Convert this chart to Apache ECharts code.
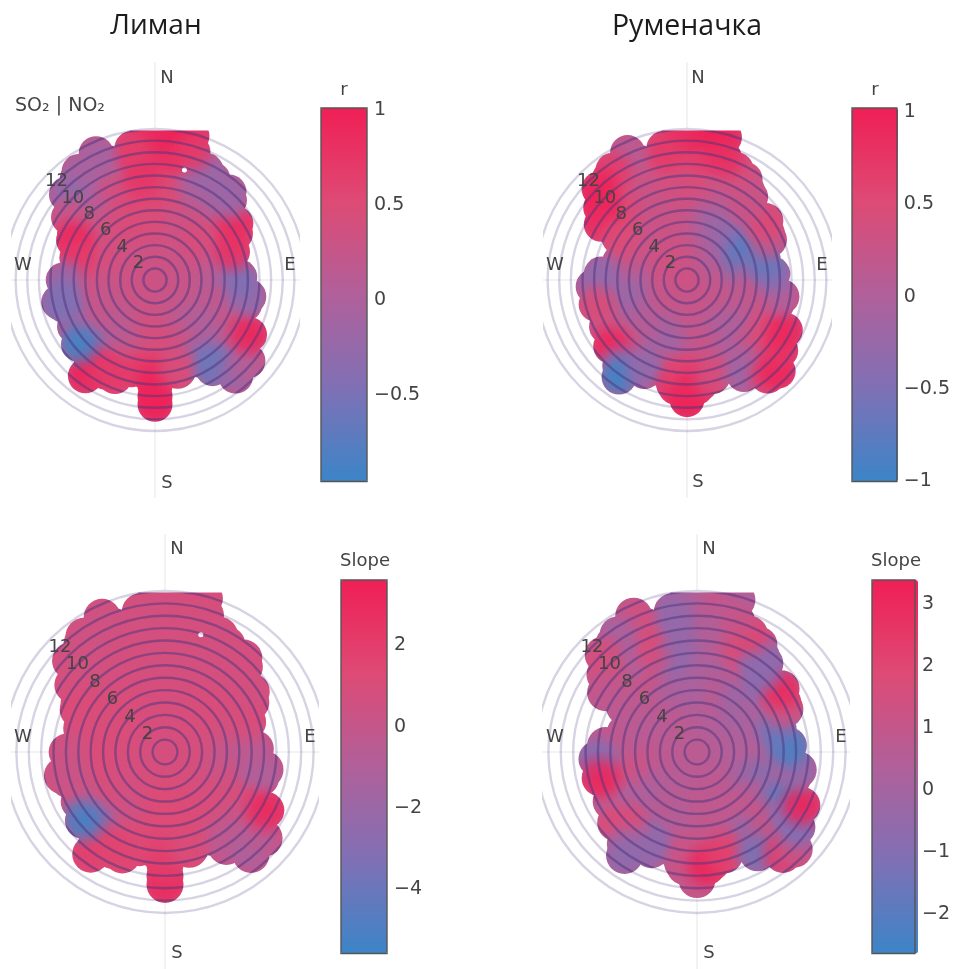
<!DOCTYPE html>
<html><head><meta charset="utf-8">
<style>html,body{margin:0;padding:0;background:#fff}#c{width:953px;height:969px}</style>
<script src="https://cdn.jsdelivr.net/npm/echarts@6/dist/echarts.min.js"></script>
</head><body><div id="c"></div>
<script>
// ---------- wind coordinates of the free-standing points [direction deg, speed m/s]; the first ones fill the interior, the rest trace the edge ----------
const limanOuterDir   = [7.5,22.5,37.5,127.5,142.5,202.5,217.5,307.5,322.5,337.5,352.5, 7.5,322.5,337.5,352.5, 14.4,8,0,357,350,335,325,314,306,296,286,270,257,254,216,208,185,180,180,166,147,140,131,120,100,88,70,55,43,40,25,16.5,230];
const limanOuterSpeed = [9,9,9,9,9,9,9,9,9,9,9, 11,11,11,11, 12.8,12.9,12.9,12.9,11.5,12.0,11.4,10.6,9.2,7.8,7.0,7.9,8.5,8.1,10.2,9.0,8.0,10.7,9.1,8.1,9.1,10.8,10.6,9.4,8.2,7.3,7.1,8.5,9.4,9.9,10.4,11.5,8.6];
const rumenOuterDir   = [7.5,22.5,37.5,127.5,142.5,172.5,187.5,217.5,307.5,322.5,337.5,352.5, 7.5,322.5,337.5,352.5, 14.7,8,0,357,350,335,326,316,310,303,302,274,266,255,229,218,215,205,186,182,180,175,165,149,140,135,127,117,100,86,75,64,53,38,34,24,17];
const rumenOuterSpeed = [9,9,9,9,9,9,9,9,9,9,9,9, 11,11,11,11, 12.7,12.9,12.9,12.8,11.5,12.1,11.4,10.9,9.7,8.8,6.9,7.4,8.1,8.1,8.7,9.4,10.2,8.7,9.3,8.3,10.3,9.3,8.6,9.5,10.8,11.1,10.1,9.5,8.3,7.4,6.8,7.9,8.5,8.3,9.3,10.4,11];

// ---------- Лиман, r ----------
const limanRCentre = [0.33];
const limanRRow2 = [.32,.33,.3,.3,.33,.32,.3,.33];
const limanRRow4 = [.35,.35,.3,.25,.3,.2,.3,.35,.3,.3,.35,.35];
const limanRRow6 = [.45,.45,.3,.4,.5,.35,.1,.05,.25,.05,0,.3,.45,.45,.3,.05,.2,.25,.25,.35,.45,.4,.4,.5];
const limanRRow8 = [.6,.45,.2,.3,.6,null,null,-.1,.35,-.05,-.45,.4,.65,.6,.4,-.4,-.05,.1,null,null,.6,.3,.4,.6];
const limanRRow10 = [.8,.65,-.1,null,null,null,null,null,null,.2,null,null,1,null,null,null,null,null,null,null,null,-.2,.1,.7];
const limanROuter = [.55,-.05,-.1,.3,-.5,.7,.85,.4,.1,.4,.75, .85,-.1,.05,.8, .85,1,1,.9,.65,-.1,-.05,-.25,.3,.95,.7,-.3,-.5,-.45,.95,.7,.75,1,.95,.45,-.6,-.2,.1,.95,-.3,-.5,.8,.85,-.05,-.2,-.2,.7,-.95];

// ---------- Руменачка, r ----------
const rumenRCentre = [0.3];
const rumenRRow2 = [.3,.28,.28,.3,.3,.3,.32,.32];
const rumenRRow4 = [.3,.2,-.1,.15,.25,.2,.3,.15,.3,.2,.35,.35];
const rumenRRow6 = [.2,.05,-.2,-.2,-.5,-.95,-.1,.2,.2,.1,-.1,.1,.35,.1,-.3,.1,.1,-.1,-.3,0,.35,.3,.3,.3];
const rumenRRow8 = [.45,.25,.05,.15,.2,null,null,.3,.5,.35,0,.3,.6,.35,-.2,.45,.35,.25,null,null,null,.6,.3,.3];
const rumenRRow10 = [.7,.55,.35,null,null,null,null,null,null,.75,null,null,1,null,null,null,null,null,null,null,null,.85,.35,.5];
const rumenROuter = [.45,.25,.2,.55,.1,.65,.55,-.1,.8,.55,.3,.4, .7,.45,.3,.65, 1,1,1,.85,.7,.1,.7,1,1,.85,.5,-.3,-.3,.5,.95,-.3,-1,-.3,.8,.6,1,.9,.4,-.2,.7,.95,.8,.95,0,-.5,-.7,.3,.55,.3,.3,.45,.85];

// ---------- Лиман, Slope ----------
const limanSCentre = [0.8];
const limanSRow2 = [.8,.8,.8,.8,.8,.8,.8,.8];
const limanSRow4 = [.9,.9,1,.8,.8,.9,1.1,1.1,.9,.9,1,1];
const limanSRow6 = [.9,.9,.9,1,1,.8,.3,-.4,.6,.9,1,1.2,1.3,1.3,1.2,.2,.9,.9,1,1.1,1.1,1,1.1,.9];
const limanSRow8 = [.7,.7,.7,.8,1,null,null,-1.3,1.1,.2,.3,1.2,1.5,1.3,1.1,-3,-.6,.3,null,null,1.2,1,.8,.8];
const limanSRow10 = [.8,.8,.8,null,null,null,null,null,null,-.2,null,null,2.4,null,null,null,null,null,null,null,null,.7,.7,.8];
const limanSOuter = [.8,.7,.7,.3,-.6,1.5,1.7,.9,.7,.8,.8, .8,.6,.7,.8, 1,.9,.8,.8,.7,.5,.5,.6,.8,1.2,1,.3,.3,.3,1.9,1.6,1.5,3,2,1.1,-.3,-1.2,-.4,3.1,-.9,-.5,1,.7,.8,.8,.7,.8,-5.4];

// ---------- Руменачка, Slope ----------
const rumenSCentre = [0.7];
const rumenSRow2 = [.7,.7,.7,.7,.7,.7,.7,.7];
const rumenSRow4 = [.3,.5,.3,.5,.4,.9,.8,.7,.5,.9,.6,.8];
const rumenSRow6 = [.1,.7,.9,-.6,.3,.2,.4,.6,-1.4,.8,1,.8,.9,.9,.3,.9,.1,.6,1.7,.6,.7,.5,1.1,.1];
const rumenSRow8 = [.3,.1,1,-1,1.5,null,null,.8,-1.9,1.4,-.8,1.5,1.1,1,-.8,1.9,.4,1.6,null,null,null,1.2,1.4,-.7];
const rumenSRow10 = [1.9,-.3,1.7,null,null,null,null,null,null,-1.2,null,null,1.2,null,null,null,null,null,null,null,null,1.6,1.9,-.5];
const rumenSOuter = [.6,1.8,-.6,-1,1.6,2.2,1.1,.8,1.2,.4,1.6,-.5, .3,-.2,1.8,-.4, .3,.9,1.4,.3,-.5,1.4,.1,1.7,1.5,.9,.8,.9,-1.2,3.2,1.9,.6,-.8,-.6,1.2,1.3,1.1,3.3,2.2,-1.4,2.6,1.2,-1.2,3.3,-.7,-2.6,-1.6,1.5,3,-.8,-.6,2.1,1.2];

// ---------- colour bars ----------
const rRangeLiman = [-0.955, 1.01];
const rRangeRumen = [-1.0, 1.02];
const sRangeLiman = [-5.57, 3.6];
const sRangeRumen = [-2.63, 3.39];
const rTicksLiman = [-0.5, 0, 0.5, 1];
const rTicksRumen = [-1, -0.5, 0, 0.5, 1];
const sTicksLiman = [-4, -2, 0, 2];
const sTicksRumen = [-2, -1, 0, 1, 2, 3];
const colourStops = ['#3b85c8','#8070b5','#b0609a','#de4a75','#f01f55'];
const speedTicks = [2, 4, 6, 8, 10, 12];
const titles = ['Лиман', 'Руменачка'];
const compass = ['N', 'E', 'S', 'W'];

// ---------- layout ----------
const panels = [
 {cx:155, cy:280, R:151, clipL:11,  clipR:300, bar:[321,108], size:35, title:'r',
  barT:344, titleY:90, range:rRangeLiman, ticks:rTicksLiman, od:limanOuterDir, os:limanOuterSpeed,
  rows:[limanRCentre,limanRRow2,limanRRow4,limanRRow6,limanRRow8,limanRRow10], outer:limanROuter,
  hole:[15,9.8], N:[167,78], S:[167,483], W:[23,265], E:[290,265]},
 {cx:687, cy:280, R:151, clipL:543, clipR:832, bar:[852,108], size:35, title:'r',
  barT:875, titleY:90, range:rRangeRumen, ticks:rTicksRumen, od:rumenOuterDir, os:rumenOuterSpeed,
  rows:[rumenRCentre,rumenRRow2,rumenRRow4,rumenRRow6,rumenRRow8,rumenRRow10], outer:rumenROuter,
  N:[698,78], S:[698,482], W:[555,265], E:[822,265]},
 {cx:165, cy:752, R:161, clipL:11,  clipR:319, bar:[341,580], size:37, title:'Slope',
  barT:365, titleY:561, range:sRangeLiman, ticks:sTicksLiman, od:limanOuterDir, os:limanOuterSpeed,
  rows:[limanSCentre,limanSRow2,limanSRow4,limanSRow6,limanSRow8,limanSRow10], outer:limanSOuter,
  hole:[17,9.9], N:[177,549], S:[177,953], W:[23,737], E:[310,737]},
 {cx:697, cy:752, R:161, clipL:542, clipR:850, bar:[872,580], size:37, title:'Slope',
  barT:896, titleY:561, range:sRangeRumen, ticks:sTicksRumen, od:rumenOuterDir, os:rumenOuterSpeed,
  rows:[rumenSCentre,rumenSRow2,rumenSRow4,rumenSRow6,rumenSRow8,rumenSRow10], outer:rumenSOuter,
  N:[709,549], S:[709,953], W:[555,737], E:[841,737]}
];
const rowSpeeds = [0,2,4,6,8,10];
const maxSpeed = 13, BAR_W = 46, BAR_H = 373.5;
const FONT = '"DejaVu Sans", Verdana, sans-serif';
const toAngle = d => (d + 45) % 360;           // radius axis runs along NW

function colourOf(v, range){
  const t = Math.min(1, Math.max(0, (v - range[0]) / (range[1] - range[0])));
  return echarts.color.lerp(t, colourStops);
}

const option = {animation:false,
  polar:[], angleAxis:[], radiusAxis:[], grid:[], xAxis:[], yAxis:[], visualMap:[], series:[], graphic:[]};
const gfx = [];
const txt = (x,y,t,size,family,color) => gfx.push({type:'text', x, y, zlevel:4, z:9, silent:true,
  style:{text:t, fontSize:size, fontFamily:family||FONT, fill:color||'#444', align:'center', verticalAlign:'middle'}});
const rect = (x,y,w,h,zl) => gfx.push({type:'rect', zlevel:zl, z:1, silent:true, shape:{x,y,width:w,height:h}, style:{fill:'#fff'}});
const line = (x1,y1,x2,y2,zl) => gfx.push({type:'line', zlevel:zl, z:2, silent:true, shape:{x1,y1,x2,y2}, style:{stroke:'#e7e7ee', lineWidth:1}});

panels.forEach((p,i) => {
  option.polar.push({center:[p.cx,p.cy], radius:[0,p.R]});
  option.angleAxis.push({polarIndex:i, type:'value', min:0, max:360, startAngle:135, show:false});
  option.radiusAxis.push({polarIndex:i, type:'value', min:0, max:maxSpeed, interval:1, zlevel:3, z:5,
    axisLine:{show:false}, axisTick:{show:false},
    splitLine:{show:true, lineStyle:{color:'rgba(88,72,140,0.24)', width:2.4}},
    axisLabel:{show:true, margin:0, align:'center', verticalAlign:'middle', color:'#444', fontSize:18, fontFamily:FONT,
      formatter:v => speedTicks.includes(v) ? String(v) : ''}});

  const inner = [], edge = [];
  p.rows.forEach((row,ri) => row.forEach((v,k) => {
    if (v === null) return;
    const d = 360 * k / row.length;
    (ri <= 3 ? inner : edge).push([rowSpeeds[ri], toAngle(d), v]);
  }));
  p.outer.forEach((v,k) => edge.push([p.os[k], toAngle(p.od[k]), v]));
  const all = inner.concat(edge);

  // neutral opaque base: it defines the outline of the blob
  option.series.push({type:'scatter', coordinateSystem:'polar', polarIndex:i, zlevel:1, z:2, clip:false, silent:true,
    symbol:'circle', symbolSize:p.size, data:all, encode:{radius:0, angle:1},
    itemStyle:{color:colourOf(p.rows[0][0], p.range), opacity:1}});
  // soft stamps, painted only where the base exists: they carry the values and blend neighbours
  const stamp = (pt,scale) => { const c = colourOf(pt[2], p.range); return {
    value:pt, symbolSize:p.size*scale,
    itemStyle:{opacity:1, color:{type:'radial', x:.5, y:.5, r:.5, colorStops:[
      {offset:0, color:echarts.color.modifyAlpha(c,.92)},
      {offset:.45, color:echarts.color.modifyAlpha(c,.72)},
      {offset:.75, color:echarts.color.modifyAlpha(c,.28)},
      {offset:1, color:echarts.color.modifyAlpha(c,0)}]}}};};
  const stampIndex = option.series.length;
  option.series.push({type:'scatter', coordinateSystem:'polar', polarIndex:i, zlevel:1, z:3, clip:false, silent:true,
    symbol:'circle', encode:{radius:0, angle:1}, blendMode:'source-atop', itemStyle:{opacity:1},
    data: inner.map(pt=>stamp(pt,2.2)).concat(edge.map(pt=>stamp(pt,1.55)))});
  // rings darken the blob more than the white paper
  option.series.push({type:'scatter', coordinateSystem:'polar', polarIndex:i, zlevel:1, z:5, clip:false, silent:true,
    symbol:'circle', encode:{radius:0, angle:1}, blendMode:'source-atop',
    data:Array.from({length:maxSpeed},(_,k)=>({value:[0,0], symbolSize:2*p.R*(k+1)/maxSpeed})),
    itemStyle:{color:'rgba(0,0,0,0)', borderColor:'rgba(70,40,120,0.36)', borderWidth:2.4, opacity:1}});
  if (p.hole) option.series.push({type:'scatter', coordinateSystem:'polar', polarIndex:i, zlevel:1, z:6, clip:false, silent:true,
    symbol:'circle', symbolSize:5, itemStyle:{color:'#fff', opacity:1}, data:[[p.hole[1], toAngle(p.hole[0])]], encode:{radius:0, angle:1}});

  // colour bar
  option.visualMap.push({type:'continuous', seriesIndex:stampIndex, dimension:2,
    min:p.range[0], max:p.range[1], left:p.bar[0], top:p.bar[1], itemWidth:BAR_W, itemHeight:BAR_H,
    padding:0, calculable:false, realtime:false, text:null, showLabel:false, hoverLink:false,
    inRange:{color:colourStops}, textStyle:{color:'rgba(0,0,0,0)', fontSize:1}});
  option.grid.push({left:p.bar[0], top:p.bar[1], width:BAR_W, height:BAR_H, show:true, z:10,
    backgroundColor:'transparent', borderColor:'#555', borderWidth:1.4});
  option.xAxis.push({gridIndex:i, type:'value', show:false, min:0, max:1});
  option.yAxis.push({gridIndex:i, type:'value', position:'right', min:p.range[0], max:p.range[1], z:10,
    axisLine:{show:false}, axisTick:{show:false}, splitLine:{show:false},
    axisLabel:{show:true, margin:7, color:'#444', fontSize:19, fontFamily:FONT, customValues:p.ticks,
      formatter:v => String(v).replace('-','\u2212')}});

  // pale axis lines, masks, compass letters
  line(p.cx, p.cy-218, p.cx, p.cy+218, 0);
  line(p.clipL, p.cy, p.clipR, p.cy, 0);
  rect(p.clipL-2, p.cy-p.R-70, p.clipR-p.clipL+4, 70+1.5, 2);     // flat top of the blob
  line(p.cx, p.cy-218, p.cx, p.cy-p.R-1, 2);
  rect(p.clipL-11, p.cy-p.R-5, 11, 2*p.R+10, 4);                  // left crop of rings
  rect(p.clipR, p.cy-p.R-5, 11, 2*p.R+10, 4);                     // right crop of rings
  compass.forEach(c => txt(p[c][0], p[c][1], c, 18));
  txt(p.barT, p.titleY, p.title, 18);
});
txt(156, 26, titles[0], 28, '"Open Sans", sans-serif', '#1c1c1c');
txt(687, 27, titles[1], 28.5, '"Open Sans", sans-serif', '#1c1c1c');
txt(60, 106, 'SO₂ | NO₂', 19);
option.graphic = {elements:gfx};

echarts.init(document.getElementById('c'), null, {renderer:'canvas'}).setOption(option);
</script></body></html>
